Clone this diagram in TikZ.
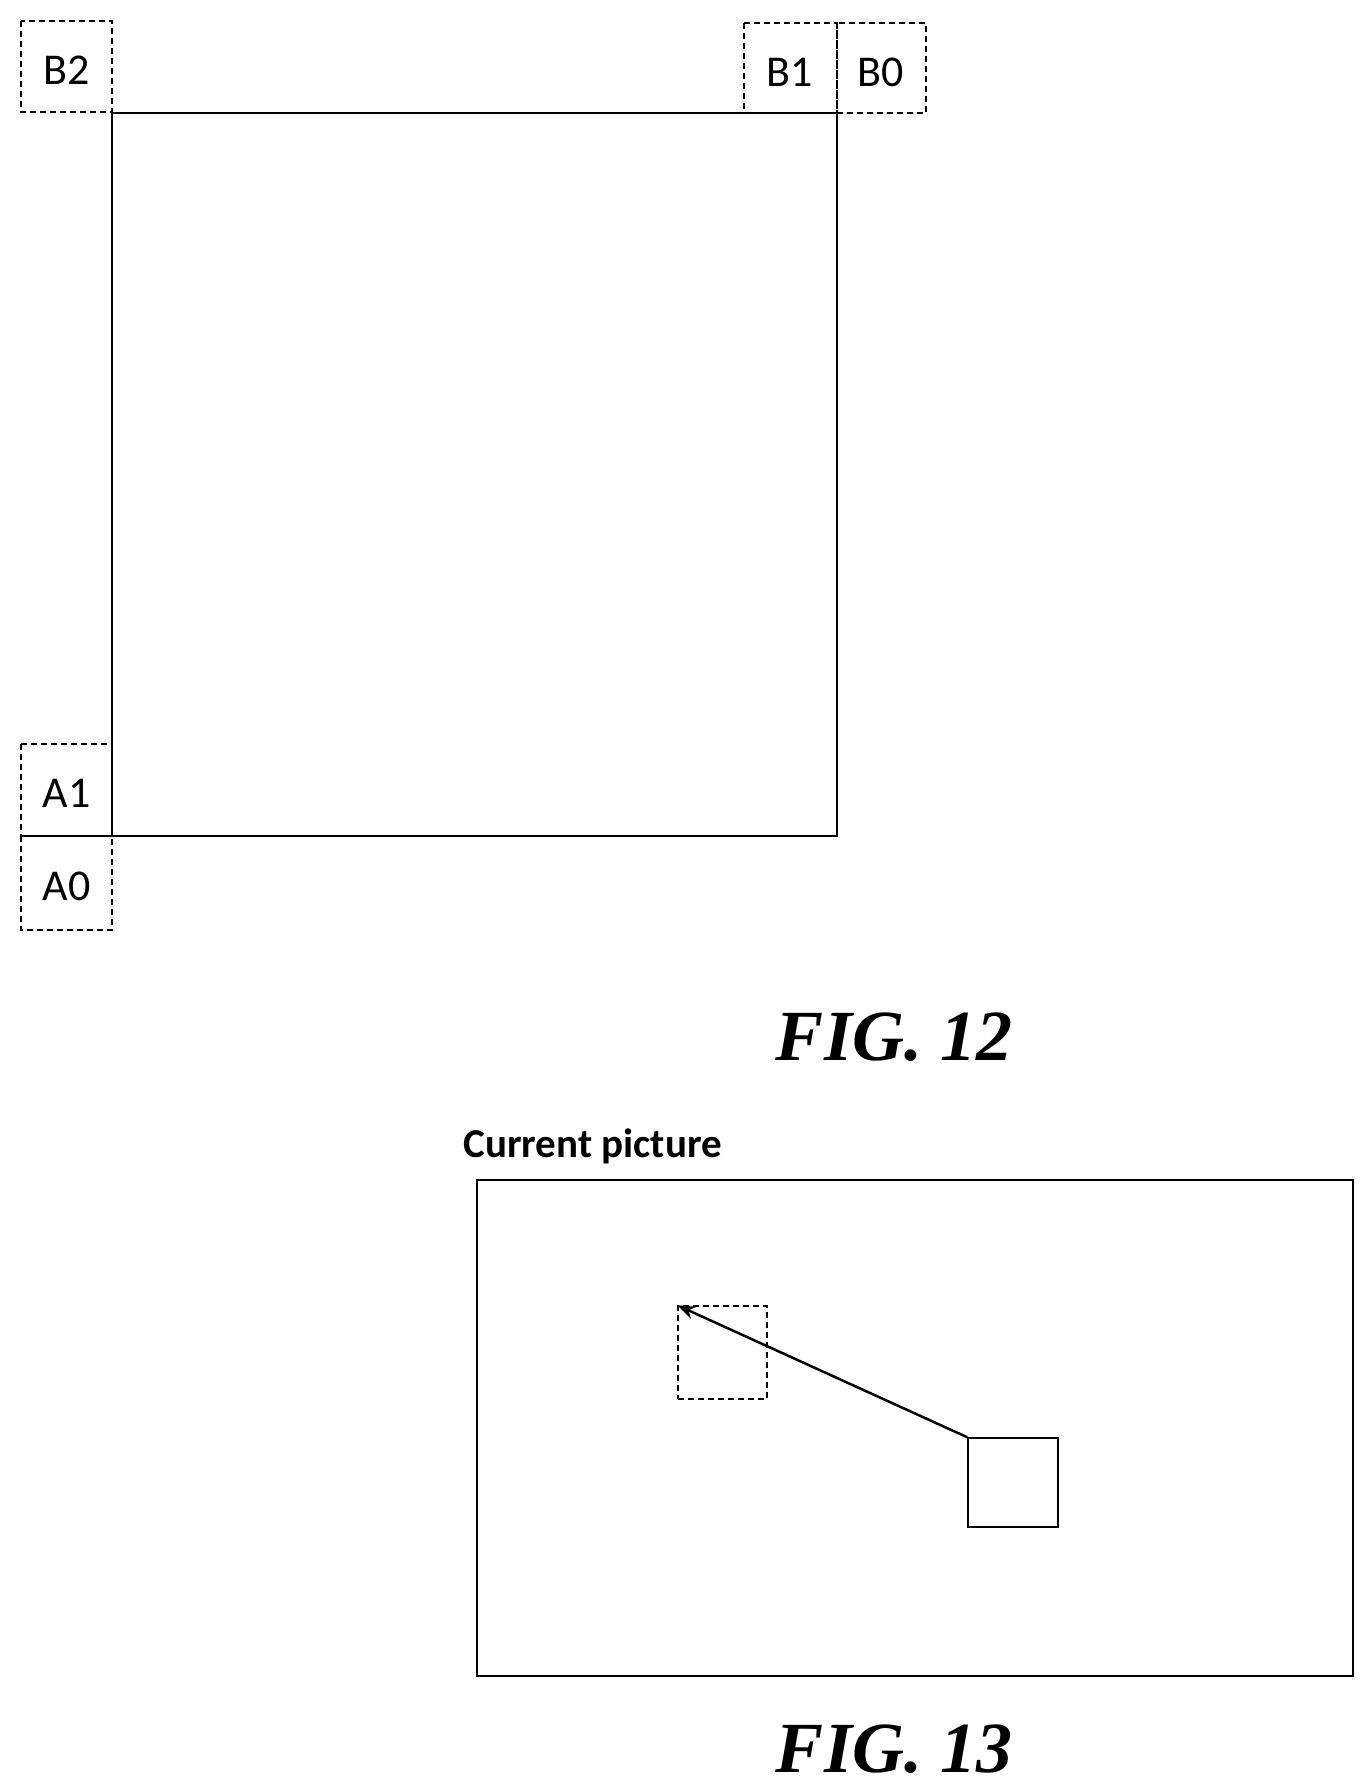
\documentclass[tikz,border=0pt]{standalone}
\usepackage{fontspec}
\usetikzlibrary{arrows.meta}
\setmainfont{Liberation Serif}
\newfontfamily\lab{Carlito}
\begin{document}
\begin{tikzpicture}[x=1pt,y=-1pt,
  dbox/.style={draw,dashed,line width=1.5pt,dash pattern=on 6pt off 4pt},
  sbox/.style={draw,line width=1.8pt},
  lbl/.style={font=\lab\fontsize{44}{48}\selectfont},
  fig/.style={font=\bfseries\itshape\fontsize{72}{80}\selectfont}]
\useasboundingbox (0,0) rectangle (1372,1790);
\draw[sbox] (112,113) rectangle (837,836);
\draw[dbox] (21,21) rectangle (112,112); \node[lbl] (b2) at (66.5,70) {B2};
\draw[dbox] (744,23) rectangle (837,113); \node[lbl] (b1) at (790,72) {B1};
\draw[dbox] (837,23) rectangle (926,113); \node[lbl] (b0) at (881,72) {B0};
\draw[dbox] (21,744) rectangle (112,836); \node[lbl] (a1) at (66.5,793) {A1};
\draw[dbox] (21,836) rectangle (112,930); \node[lbl] (a0) at (66.5,886) {A0};
\node[fig] (f12) at (894,1037) {FIG. 12};
\node[font=\lab\bfseries\fontsize{41}{46}\selectfont,anchor=base west] (cp) at (460,1157) {Current picture};
\draw[sbox] (477,1180) rectangle (1353,1676);
\node[dbox,minimum width=89pt,minimum height=93pt,inner sep=0pt] (ref) at (722.5,1352.5) {};
\node[sbox,line width=1.5pt,minimum width=90pt,minimum height=89pt,inner sep=0pt] (cur) at (1013,1482.5) {};
\draw[line width=2.5pt,-{Stealth[length=18pt,width=13pt]}] (cur.north west) -- (ref.north west);
\node[fig] (f13) at (894,1749) {FIG. 13};
\end{tikzpicture}
\end{document}
